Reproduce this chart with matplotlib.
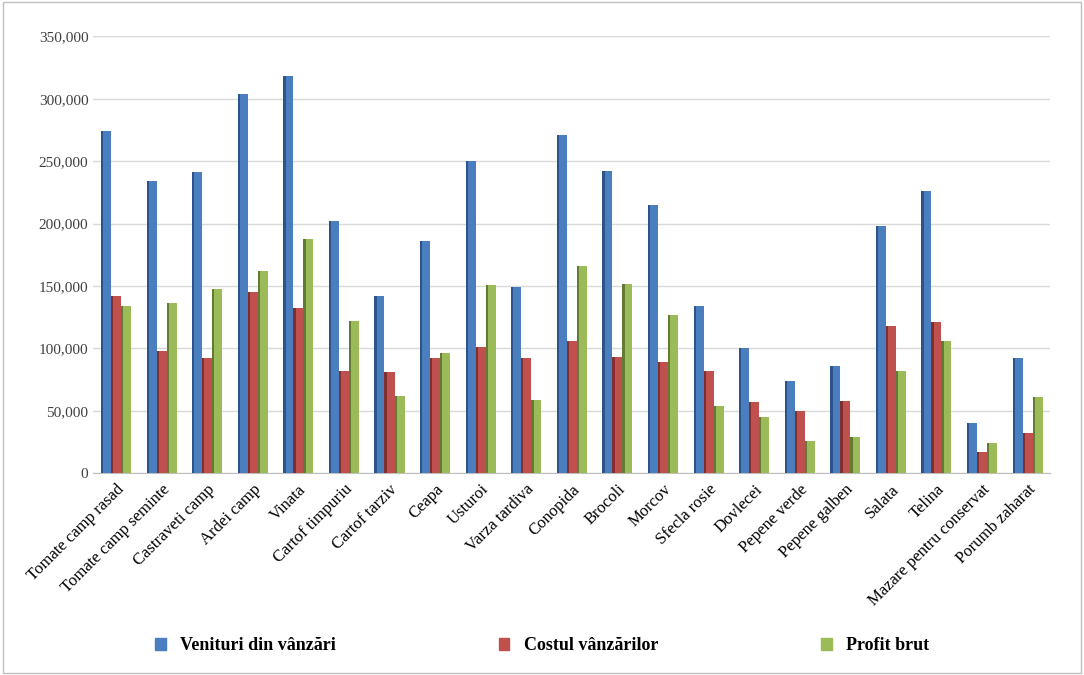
import numpy as np
import matplotlib.pyplot as plt
from matplotlib.patches import Patch, Rectangle

plt.rcParams['font.family'] = ['Liberation Serif', 'DejaVu Serif']

categories = ["Tomate camp rasad", "Tomate camp seminte", "Castraveti camp", "Ardei camp",
              "Vinata", "Cartof timpuriu", "Cartof tarziv", "Ceapa", "Usturoi",
              "Varza tardiva", "Conopida", "Brocoli", "Morcov", "Sfecla rosie",
              "Dovlecei", "Pepene verde", "Pepene galben", "Salata", "Telina",
              "Mazare pentru conservat", "Porumb zaharat"]
venituri = [274000, 234000, 241000, 304000, 318000, 202000, 142000, 186000, 250000,
            149000, 271000, 242000, 215000, 134000, 100000, 74000, 86000, 198000,
            226000, 40000, 92000]
costul = [142000, 98000, 92000, 145000, 132000, 82000, 81000, 92000, 101000,
          92000, 106000, 93000, 89000, 82000, 57000, 50000, 58000, 118000,
          121000, 17000, 32000]
profit = [134000, 136000, 148000, 162000, 188000, 122000, 62000, 96000, 151000,
          59000, 166000, 152000, 127000, 54000, 45000, 26000, 29000, 82000,
          106000, 24000, 61000]

series = [("Veniturí din vânzări", venituri, "#4a7ebf", "#2c5489"),
          ("Costul vânzărilor", costul, "#c0504d", "#7f2f2d"),
          ("Profit brut", profit, "#9bbb59", "#627a33")]

fig = plt.figure(figsize=(10.84, 6.75), dpi=100)
fig.patches.append(Rectangle((0.003, 0.003), 0.994, 0.994, transform=fig.transFigure,
                             fill=False, edgecolor="#bfbfbf", linewidth=1))
ax = fig.add_axes([0.086, 0.299, 0.883, 0.647])

x = np.arange(len(categories))
w = 0.22
depth = 0.05
for i, (name, vals, col, dark) in enumerate(series):
    pos = x + (i - 1) * w
    ax.bar(pos, vals, width=w, color=col, zorder=3, label=name)
    ax.bar(pos - w / 2 + depth / 2, vals, width=depth, color=dark, zorder=4)

ax.set_ylim(0, 350000)
ax.set_xlim(-0.5, len(categories) - 0.5)
ax.set_yticks(np.arange(0, 350001, 50000))
ax.set_yticklabels(["0"] + [f"{v:,}" for v in range(50000, 350001, 50000)])
ax.yaxis.grid(True, color="#d9d9d9", linewidth=1, zorder=0)
ax.set_xticks(x)
ax.set_xticklabels(categories, rotation=45, ha="right", rotation_mode="anchor", fontsize=12)
ax.tick_params(axis="y", labelsize=11, length=0, colors="#404040")
ax.tick_params(axis="x", length=0, pad=6)
for s in ["top", "right", "left"]:
    ax.spines[s].set_visible(False)
ax.spines["bottom"].set_color("#bfbfbf")

handles = [Patch(color=c) for _, _, c, _ in series]
fig.legend(handles, ["Venituri din vânzări", "Costul vânzărilor", "Profit brut"],
           loc="center", bbox_to_anchor=(0.5, 0.043), ncol=3, frameon=False,
           handlelength=0.6, handleheight=0.6, columnspacing=9,
           prop={"weight": "bold", "size": 13})

fig.savefig("out.png", dpi=100)
